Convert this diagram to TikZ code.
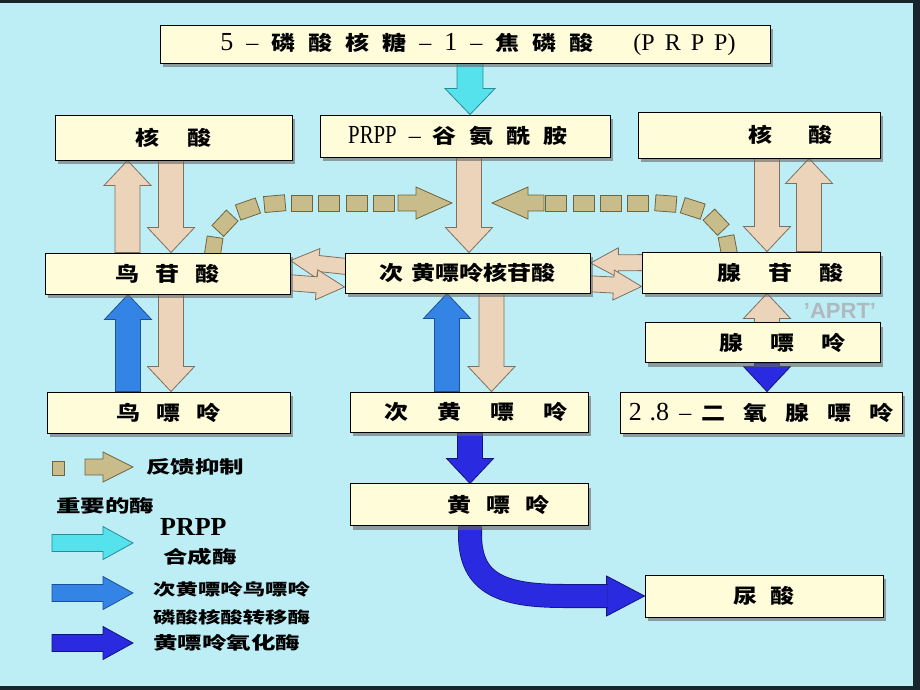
\documentclass[tikz,border=0pt]{standalone}
\usepackage{fontspec}
\setmainfont{Liberation Serif}
\setsansfont{Liberation Sans}
\newfontfamily\cjk{Noto Sans CJK SC}[FakeStretch=1.2]
\newfontfamily\cjkw{Noto Sans CJK SC}[FakeStretch=1.4]
\newfontfamily\condser{Liberation Serif}[FakeStretch=0.8]
\usetikzlibrary{calc,positioning,shadows,decorations.markings}

\definecolor{bgcyan}{RGB}{190,238,245}
\definecolor{boxfill}{RGB}{255,252,218}
\definecolor{beigefill}{RGB}{236,212,186}
\definecolor{beigeline}{RGB}{125,112,95}
\definecolor{khaki}{RGB}{200,188,138}
\definecolor{khakiline}{RGB}{110,100,62}
\definecolor{cyanfill}{RGB}{85,226,236}
\definecolor{cyanline}{RGB}{40,140,150}
\definecolor{midblue}{RGB}{52,132,230}
\definecolor{midline}{RGB}{30,80,150}
\definecolor{dkblue}{RGB}{42,42,225}
\definecolor{dkline}{RGB}{20,20,120}
\definecolor{framecol}{RGB}{22,38,44}
\definecolor{aprtcol}{RGB}{176,184,192}

\pgfdeclarelayer{back}
\pgfdeclarelayer{arrows}
\pgfsetlayers{back,arrows,main}

\newcommand\lat[2][24]{{\rmfamily\mdseries\fontsize{#1}{#1}\selectfont #2}}
\newcommand\gap{\hspace{13pt}}

% fat block arrow from #2 to #3
\def\fshaft{24}\def\fhead{46}\def\flen{24}
\newcommand\fatarrow[3][]{%
  \draw[line width=0.8pt,line join=miter,#1] let \p1=#2, \p2=#3,
    \n1={atan2(\y2-\y1,\x2-\x1)}, \n2={veclen(\x2-\x1,\y2-\y1)} in
    [shift={(\p1)},rotate=\n1]
    (0pt,{-\fshaft*0.5pt}) -- ({\n2*1pt-\flen*1pt},{-\fshaft*0.5pt})
    -- ({\n2*1pt-\flen*1pt},{-\fhead*0.5pt}) -- ({\n2*1pt},0pt)
    -- ({\n2*1pt-\flen*1pt},{\fhead*0.5pt}) -- ({\n2*1pt-\flen*1pt},{\fshaft*0.5pt})
    -- (0pt,{\fshaft*0.5pt}) -- cycle;}

\tikzset{
  fat/.code args={#1/#2/#3}{\def\fshaft{#1}\def\fhead{#2}\def\flen{#3}},
  box/.style 2 args={draw=black, line width=0.9pt, fill=boxfill, inner sep=0pt,
    minimum width=#1pt, minimum height=#2pt,
    drop shadow={shadow xshift=3pt, shadow yshift=-4pt, fill=black!60, opacity=.6},
    font=\cjk\bfseries\fontsize{20}{24}\selectfont},
  beige/.style={fill=beigefill, draw=beigeline, fat=25/47/25},
  cross/.style={fill=beigefill, draw=beigeline, fat=16/30/28},
  blue/.style={fill=midblue, draw=midline, fat=25/47/25},
  dark/.style={fill=dkblue, draw=dkline, fat=25/47/25},
  cyanarr/.style={fill=cyanfill, draw=cyanline, fat=26/50/26},
  fbsq/.style={fill=khaki, draw=khakiline, line width=0.8pt},
  fbhead/.style={fbsq, fat=16/32/36},
  fbtrail/.style={decorate, decoration={markings,
    mark=between positions 0 and 1 step 0.1428 with {\draw[fbsq] (-10.5pt,-8pt) rectangle (10.5pt,8pt);}}},
  lgtext/.style={inner sep=0pt, anchor=west, font=\cjkw\bfseries\fontsize{17.5}{20}\selectfont},
  lgsmall/.style={inner sep=0pt, anchor=west, font=\cjkw\bfseries\fontsize{16}{18}\selectfont}
}

\begin{document}
\begin{tikzpicture}[x=1pt,y=-1pt]
\begin{pgfonlayer}{back}
\fill[bgcyan] (0,0) rectangle (920,690);
\fill[framecol] (0,0) rectangle (920,3);
\fill[framecol] (913,0) rectangle (920,690);
\fill[framecol] (0,686) rectangle (920,690);
\end{pgfonlayer}
\useasboundingbox (0,0) rectangle (920,690);

% boxes
\node[box={610}{38}] (prpp) at (465,44) {\hspace*{26pt}\lat[26]{5}\gap\lat{--}\gap 磷\gap 酸\gap 核\gap 糖\gap\lat{--}\gap\lat[26]{1}\gap\lat{--}\gap 焦\gap 磷\gap 酸\hspace{40pt}\lat{(P\hspace{10pt}R\hspace{10pt}P\hspace{10pt}P)}};
\node[box={237}{45}] (hsL) at (173.5,137.5) {核\hspace{28pt}酸};
\node[box={290}{42}] (glnp) at (465,136) {{\condser\mdseries\fontsize{26}{26}\selectfont PRPP}\hspace{12pt}\lat{--}\hspace{12pt}谷\gap 氨\gap 酰\gap 胺\hspace*{14pt}};
\node[box={242}{46}] (hsR) at (759,135) {\hspace*{62pt}核\hspace{36pt}酸};

\node[box={245}{41}] (gmp) at (167.5,273.5) {鸟\hspace{16pt}苷\hspace{16pt}酸};
\node[box={245}{40}] (imp) at (467.5,273) {次\hspace{8pt}黄嘌呤核苷酸};
\node[box={238}{41}] (amp) at (761,272.5) {\hspace*{38pt}腺\hspace{27pt}苷\hspace{27pt}酸};
\node[box={235}{40}, below=29pt of amp, xshift=1.5pt] (ade) {\hspace*{40pt}腺\hspace{27pt}嘌\hspace{27pt}呤};

\node[box={243}{41}] (gua) at (168.5,412.5) {鸟\hspace{16pt}嘌\hspace{16pt}呤};
\node[box={238}{40}] (hyp) at (469,412) {\hspace*{14pt}次\hspace{29pt}黄\hspace{29pt}嘌\hspace{29pt}呤};
\node[box={282}{41}] (dha) at (761,412.5) {\lat[26]{2\hspace{8pt}.8}\hspace{10pt}\lat{--}\hspace{10pt}二\hspace{18pt}氧\hspace{18pt}腺\hspace{18pt}嘌\hspace{18pt}呤};
\node[box={238}{42}, below=51pt of hyp] (xan) {\hspace*{58pt}黄\hspace{15pt}嘌\hspace{15pt}呤};
\node[box={238}{42}] (uric) at (764,596) {尿\hspace{13pt}酸};

\node[font=\sffamily\bfseries\fontsize{22}{22}\selectfont, text=aprtcol, inner sep=0pt] (aprt) at (840,311) {'APRT'};

% legend
\node[lgtext] (lgFb) at (146,467) {反馈抑制};
\node[lgtext] (lgEnz) at (56,506) {重要的酶};
\node[inner sep=0pt, anchor=west, font=\bfseries\fontsize{26}{28}\selectfont] (lgPrpp) at (160,527) {PRPP};
\node[lgtext] (lgSyn) at (163,557) {合成酶};
\node[lgsmall] (lgHg1) at (153,589) {次黄嘌呤鸟嘌呤};
\node[lgsmall] (lgHg2) at (153,617) {磷酸核酸转移酶};
\node[lgtext] (lgXo) at (153,643) {黄嘌呤氧化酶};

\coordinate (lgK1) at (85,467);  \coordinate (lgK2) at (133,467);
\coordinate (lgC1) at (52,543);  \coordinate (lgC2) at (133,543);
\coordinate (lgB1) at (52,593);  \coordinate (lgB2) at (133,593);
\coordinate (lgD1) at (52,643);  \coordinate (lgD2) at (133,643);
\coordinate (fbLa) at (398,203); \coordinate (fbLb) at (452,203);
\coordinate (fbRa) at (544,203); \coordinate (fbRb) at (492,203);

\begin{pgfonlayer}{arrows}
% feedback inhibition
\path[fbtrail] ([xshift=46pt,yshift=5pt]gmp.north) .. controls (218,218) and (245,203) .. (290,203) -- ([xshift=-14pt]fbLa);
\path[fbtrail] ([xshift=-33pt,yshift=5pt]amp.north) .. controls (722,215) and (695,203) .. (650,203) -- ([xshift=12pt]fbRa);
\fatarrow[fbhead]{(fbLa)}{(fbLb)}
\fatarrow[fbhead]{(fbRa)}{(fbRb)}

\fatarrow[cyanarr]{([xshift=5pt]prpp.south)}{([xshift=5pt]glnp.north)}

\fatarrow[beige]{([xshift=-40pt]gmp.north)}{([xshift=-46pt]hsL.south)}
\fatarrow[beige]{([xshift=-2.5pt]hsL.south)}{([xshift=3.5pt]gmp.north)}
\fatarrow[beige]{([xshift=3.5pt]gmp.south)}{([xshift=2.5pt]gua.north)}
\fatarrow[blue]{([xshift=-40.5pt]gua.north)}{([xshift=-39.5pt]gmp.south)}

\fatarrow[beige]{([xshift=4pt]glnp.south)}{([xshift=1.5pt]imp.north)}
\fatarrow[beige]{([xshift=24pt]imp.south)}{([xshift=22.5pt]hyp.north)}
\fatarrow[blue]{([xshift=-22pt]hyp.north)}{([xshift=-20.5pt]imp.south)}

\fatarrow[beige]{([xshift=8pt]hsR.south)}{([xshift=6pt]amp.north)}
\fatarrow[beige]{([xshift=48pt]amp.north)}{([xshift=50pt]hsR.south)}
\fatarrow[beige]{([xshift=4.5pt]ade.north)}{([xshift=6pt]amp.south)}
\fatarrow[dark]{([xshift=4.5pt]ade.south)}{([xshift=6pt]dha.north)}

\fatarrow[cross]{([xshift=16pt,yshift=5pt]imp.west)}{([yshift=13pt]gmp.east)}
\fatarrow[cross]{([xshift=-16pt,yshift=-8pt]gmp.east)}{([yshift=-14pt]imp.west)}
\fatarrow[cross]{([xshift=16pt,yshift=10pt]amp.west)}{([yshift=10pt]imp.east)}
\fatarrow[cross]{([xshift=-16pt,yshift=-10pt]imp.east)}{([yshift=-14pt]amp.west)}

\fatarrow[dark]{([xshift=1pt]hyp.south)}{([xshift=1pt]xan.north)}
\fatarrow[dark,fat=23/40/38]{([xshift=-40pt]uric.west)}{(uric.west)}
\draw[dkline, line width=0.8pt, double=dkblue, double distance=22.4pt]
  ([xshift=1pt]xan.south) -- ++(0,8) .. controls +(0,50) and +(-62,0) .. ([xshift=-80pt]uric.west) -- ([xshift=-37pt]uric.west);

% legend symbols
\draw[fbsq] (52,461) rectangle (64,475);
\fatarrow[fbsq,fat=16/30/30]{(lgK1)}{(lgK2)}
\fatarrow[cyanarr,fat=17/33/30]{(lgC1)}{(lgC2)}
\fatarrow[blue,fat=17/33/30]{(lgB1)}{(lgB2)}
\fatarrow[dark,fat=17/33/30]{(lgD1)}{(lgD2)}
\end{pgfonlayer}
\end{tikzpicture}
\end{document}
